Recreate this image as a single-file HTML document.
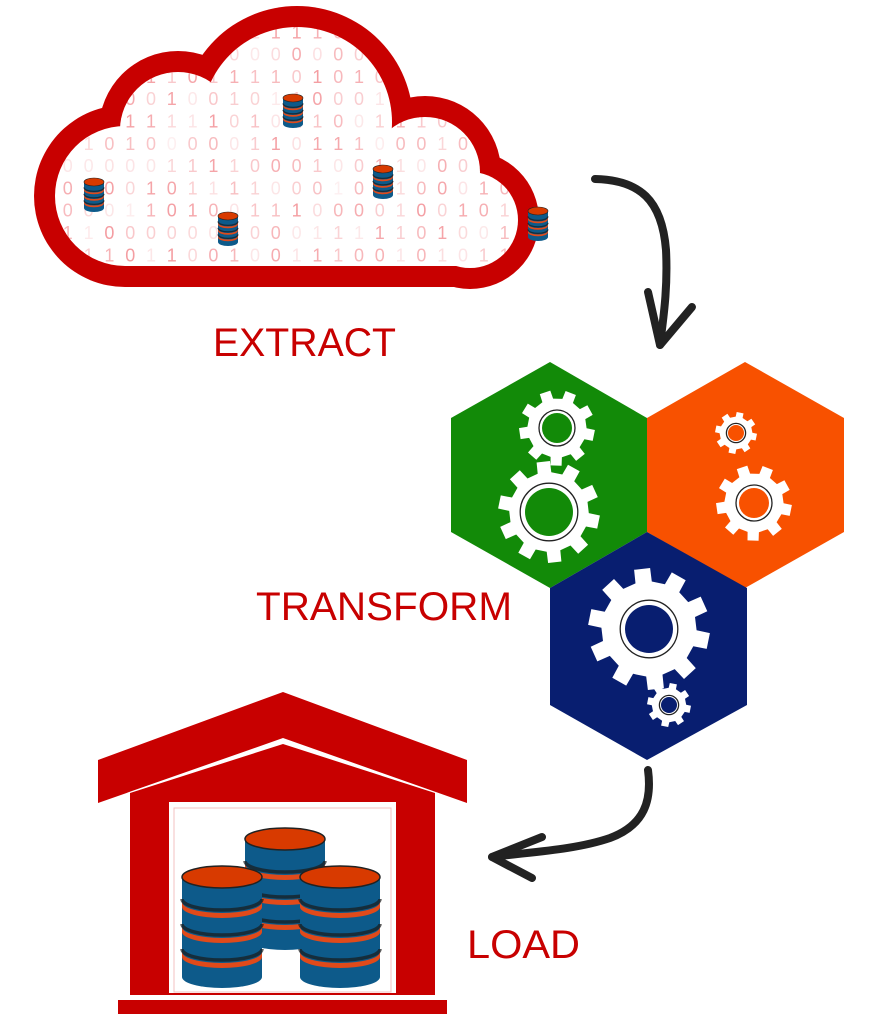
<!DOCTYPE html>
<html><head><meta charset="utf-8"><style>
html,body{margin:0;padding:0;background:#fff}
svg{display:block}
text{font-family:"Liberation Sans",sans-serif}
</style></head><body>
<svg id="s" width="888" height="1024" viewBox="0 0 888 1024" xmlns="http://www.w3.org/2000/svg">
<defs>
<clipPath id="cin">
<circle cx="125" cy="196" r="70"/><circle cx="178" cy="130" r="58"/><circle cx="297" cy="122" r="95"/><circle cx="425" cy="172" r="55"/><circle cx="470" cy="220" r="48"/>
<rect x="125" y="140" width="345" height="126"/>
</clipPath>
</defs>
<!-- cloud -->
<g fill="#c80000">
<circle cx="125" cy="196" r="91"/><circle cx="178" cy="130" r="79"/><circle cx="297" cy="122" r="116"/><circle cx="425" cy="172" r="76"/><circle cx="470" cy="220" r="69"/>
<rect x="125" y="196" width="345" height="91"/>
</g>
<g fill="#fff">
<circle cx="125" cy="196" r="70"/><circle cx="178" cy="130" r="58"/><circle cx="297" cy="122" r="95"/><circle cx="425" cy="172" r="55"/><circle cx="470" cy="220" r="48"/>
<rect x="125" y="140" width="345" height="126"/>
</g>
<g id="digits" clip-path="url(#cin)" fill="#e8303a" font-size="18"></g>
<g id="dbs"></g>

<!-- arrows -->
<g fill="none" stroke="#222" stroke-width="8" stroke-linecap="round" stroke-linejoin="round">
<path d="M595,179 C640,180 662,200 666,250 C668,290 663,320 660,345"/>
<path d="M648,292 L660,345 L692,307"/>
<path d="M648,770 C652,800 645,825 610,838 C575,850 530,852 492,857"/>
<path d="M542,837 L492,857 L532,878"/>
</g>

<!-- hexagons -->
<polygon points="550,362 647,418 647,532 550,588 451,532 451,418" fill="#128a08"/>
<polygon points="745,362 844,418 844,532 745,588 647,532 647,418" fill="#f85100"/>
<polygon points="647,532 747,588 747,705 647,760 550,705 550,588" fill="#081e70"/>
<g id="gears"></g>

<!-- warehouse -->
<polygon points="98,760 283,692 467,760 467,803 283,738 98,803" fill="#c80000"/>
<polygon points="130,793 283,744 435,793 435,995 130,995" fill="#c80000"/>
<rect x="169" y="802" width="227" height="191" fill="#fff"/>
<rect x="174" y="808" width="217" height="184" fill="none" stroke="#f3c0c0" stroke-width="1"/>
<rect x="118" y="1000" width="329" height="14" fill="#c80000"/>
<g id="bigdb"></g>

<text x="213" y="356" font-size="40" fill="#c80000" textLength="183" lengthAdjust="spacingAndGlyphs">EXTRACT</text>
<text x="256" y="620" font-size="40" fill="#c80000" textLength="256" lengthAdjust="spacingAndGlyphs">TRANSFORM</text>
<text x="467" y="958" font-size="40" fill="#c80000" textLength="113" lengthAdjust="spacingAndGlyphs">LOAD</text>
</svg>
<script>
var NS="http://www.w3.org/2000/svg";
function el(t,a,p){var e=document.createElementNS(NS,t);for(var k in a)e.setAttribute(k,a[k]);(p||document.getElementById('s')).appendChild(e);return e;}
var seed=7;function rnd(){seed=(seed*9301+49297)%233280;return seed/233280;}
var dg=document.getElementById('digits');
for(var r=0;r<12;r++){for(var c=0;c<26;c++){var x=42+c*20.8,y=16+r*22.3;
 var t=el('text',{x:x,y:y,'fill-opacity':(0.08+rnd()*0.4).toFixed(2)},dg);t.textContent=rnd()<0.5?'0':'1';}}
function db(g,cx,top,w,h,ey,nb){
 var d=document.getElementById(g),l=cx-w/2,rr=cx+w/2,rx=w/2;
 el('path',{d:'M'+l+','+top+' L'+l+','+(top+h)+' A'+rx+','+ey+' 0 0 0 '+rr+','+(top+h)+' L'+rr+','+top+'Z',fill:'#0d5a8a'},d);
 var th=Math.max(1.5,ey*0.45);
 for(var i=1;i<=nb;i++){var yy=top+i*h/(nb+1);
  el('path',{d:'M'+l+','+(yy-th*0.6)+' A'+rx+','+ey+' 0 0 0 '+rr+','+(yy-th*0.6),fill:'none',stroke:'#1a1a1a','stroke-width':th*0.7,'stroke-opacity':0.7},d);
  el('path',{d:'M'+l+','+yy+' A'+rx+','+ey+' 0 0 0 '+rr+','+yy+' L'+rr+','+(yy+th)+' A'+rx+','+ey+' 0 0 1 '+l+','+(yy+th)+'Z',fill:'#e04a1a'},d);}
 el('ellipse',{cx:cx,cy:top,rx:rx,ry:ey,fill:'#d83a00',stroke:'#222','stroke-width':ey>6?1.5:0.6},d);
}
db('dbs',293,98,20,26,4,3);db('dbs',94,182,20,26,4,3);db('dbs',228,216,20,26,4,3);db('dbs',383,169,20,26,4,3);db('dbs',538,211,20,26,4,3);
db('bigdb',285,839,80,100,11,3);db('bigdb',222,877,80,100,11,3);db('bigdb',340,877,80,100,11,3);
var gg=document.getElementById('gears');
function gear(cx,cy,R,n,hole,col){
 var ri=R*0.78,p='';
 for(var i=0;i<n;i++){var a0=i*2*Math.PI/n+0.2,s=Math.PI/n;
  var pts=[[ri,a0-s*0.55],[R,a0-s*0.42],[R,a0+s*0.42],[ri,a0+s*0.55],[ri,a0+s*1.45]];
  pts.forEach(function(q,j){var x=cx+q[0]*Math.cos(q[1]),y=cy+q[0]*Math.sin(q[1]);p+=(i==0&&j==0?'M':'L')+x.toFixed(1)+','+y.toFixed(1);});}
 p+='Z';
 el('path',{d:p,fill:'#fff'},gg);
 el('circle',{cx:cx,cy:cy,r:hole*1.2,fill:'none',stroke:'#222','stroke-width':1.3},gg);
 el('circle',{cx:cx,cy:cy,r:hole,fill:col},gg);
}
gear(557,428,38,9,15,'#128a08');gear(549,512,51,10,24,'#128a08');
gear(736,433,21,8,8,'#f85100');gear(754,503,38,9,15,'#f85100');
gear(649,629,61,10,24,'#081e70');gear(669,705,22,8,8,'#081e70');
</script>
</body></html>
